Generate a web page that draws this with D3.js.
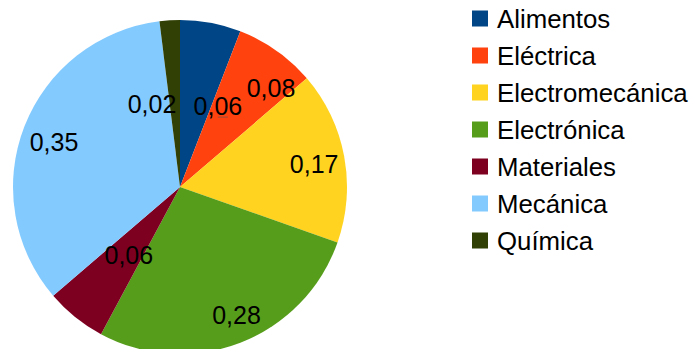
<!DOCTYPE html>
<html>
<head>
<meta charset="utf-8">
<script src="https://cdn.jsdelivr.net/npm/d3@7"></script>
<style>
  body { margin: 0; background: #fff; }
  text { font-family: "Liberation Sans", Arial, sans-serif; fill: #000; }
</style>
</head>
<body>
<svg id="chart" width="693" height="349"></svg>
<script>
// data
const categories = ['Alimentos', 'Eléctrica', 'Electromecánica', 'Electrónica', 'Materiales', 'Mecánica', 'Química'];
const values = [0.06, 0.08, 0.17, 0.28, 0.06, 0.35, 0.02];
const colors = ['#004586', '#ff420e', '#ffd320', '#579d1c', '#7e0021', '#83caff', '#314004'];

// label placement: radius fraction and angle nudge (deg), like the office tool moved them
const labelRadius = [0.535, 0.805, 0.815, 0.84, 0.51, 0.80, 0.525];
const labelNudge = [14.5, 7.3, 0.9, -2.6, -1.9, -1.7, -15.1];

const svg = d3.select('#chart');
const cx = 180, cy = 187, radius = 167;

const color = d3.scaleOrdinal().domain(categories).range(colors);
const fmt = (v) => d3.format('.2f')(v).replace('.', ',');

const pie = d3.pie().sort(null).value((d) => d.value);
const arcs = pie(categories.map((c, i) => ({ name: c, value: values[i] })));
const arc = d3.arc().innerRadius(0).outerRadius(radius);

const g = svg.append('g').attr('transform', `translate(${cx},${cy})`);

g.selectAll('path')
  .data(arcs)
  .enter()
  .append('path')
  .attr('d', arc)
  .attr('fill', (d) => color(d.data.name));

// labels
const labelPos = (d, i) => {
  const a = (d.startAngle + d.endAngle) / 2 + labelNudge[i] * Math.PI / 180;
  const r = radius * labelRadius[i];
  return [r * Math.sin(a), -r * Math.cos(a)];
};

// thin leader line for the moved Alimentos label
const p0 = labelPos(arcs[0], 0);
const a0 = (arcs[0].startAngle + arcs[0].endAngle) / 2;
g.append('line')
  .attr('x1', p0[0] + 10).attr('y1', p0[1] + 11)
  .attr('x2', radius * 0.45 * Math.sin(a0) + 24).attr('y2', -radius * 0.45 * Math.cos(a0) + 4)
  .attr('stroke', '#555')
  .attr('stroke-width', 0.6);

g.selectAll('text.label')
  .data(arcs)
  .enter()
  .append('text')
  .attr('class', 'label')
  .attr('x', (d, i) => labelPos(d, i)[0])
  .attr('y', (d, i) => labelPos(d, i)[1] + 9)
  .attr('text-anchor', 'middle')
  .style('font-size', '25px')
  .text((d) => fmt(d.data.value));

// legend
const rows = d3.scaleBand()
  .domain(categories)
  .range([0, 259])
  .paddingInner(0);

const legend = svg.append('g').attr('transform', 'translate(472,0)');
const item = legend.selectAll('g')
  .data(categories)
  .enter()
  .append('g')
  .attr('transform', (d) => `translate(0,${rows(d)})`);

item.append('rect')
  .attr('x', 0)
  .attr('y', rows.bandwidth() / 2 - 8)
  .attr('width', 16)
  .attr('height', 16)
  .attr('fill', (d) => color(d));

item.append('text')
  .attr('x', 25)
  .attr('y', rows.bandwidth() / 2 + 9)
  .style('font-size', '25.8px')
  .text((d) => d);
</script>
</body>
</html>
